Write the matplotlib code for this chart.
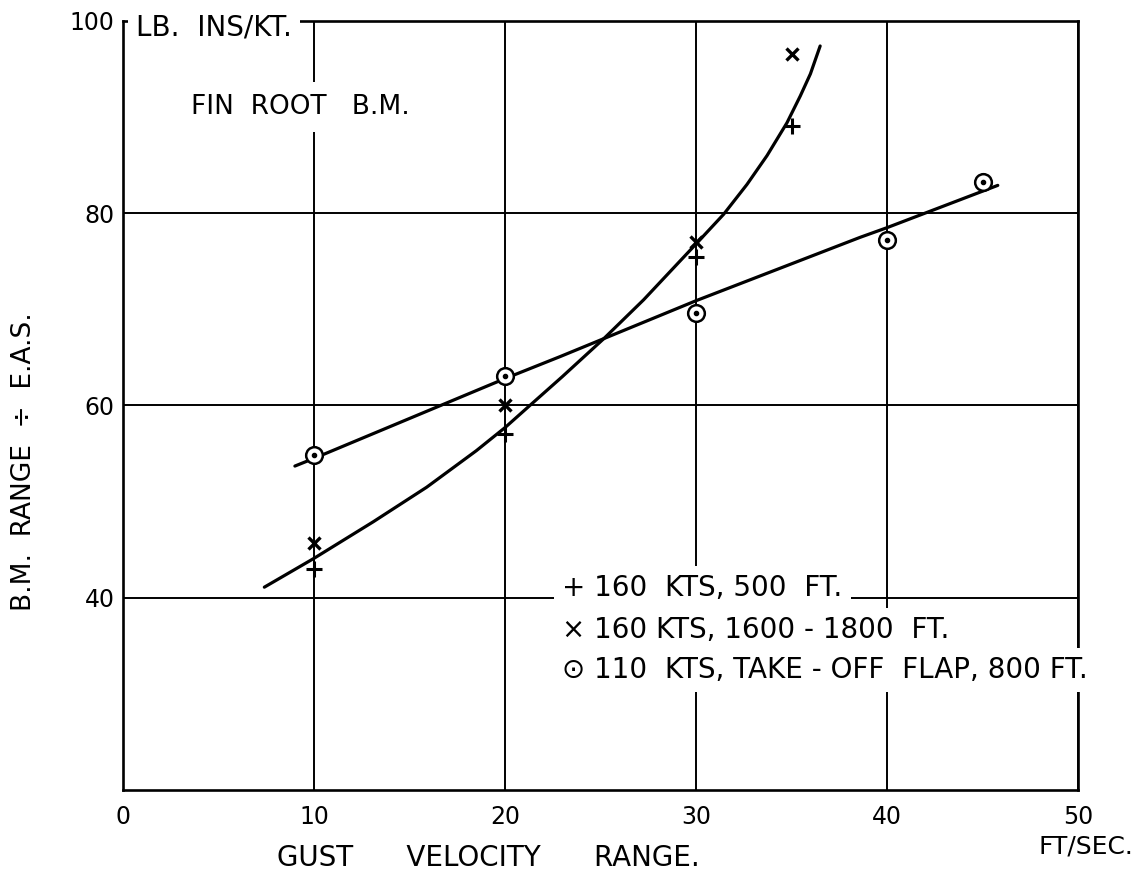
import matplotlib
matplotlib.use("Agg")
import matplotlib.pyplot as plt

# ---- data ----
x_ticks = [0, 10, 20, 30, 40, 50]
y_ticks = [40, 60, 80, 100]

# + 160 KTS, 500 FT.
plus_x = [10, 20, 30, 35]
plus_y = [43.0, 57.0, 75.4, 89.1]
# x 160 KTS, 1600-1800 FT.
cross_x = [10, 20, 30, 35]
cross_y = [45.7, 60.0, 77.0, 96.6]
# o 110 KTS, TAKE-OFF FLAP, 800 FT.
circ_x = [10, 20, 30, 40, 45]
circ_y = [54.8, 63.1, 69.6, 77.2, 83.2]

# faired curves
curve_a_x = [7.4, 10.0, 13.1, 15.9, 18.5, 20.0, 21.3, 23.0, 25.17, 27.26,
             30.0, 31.45, 32.67, 33.72, 34.76, 35.46, 35.99, 36.5]
curve_a_y = [41.1, 44.1, 47.9, 51.5, 55.3, 57.7, 60.0, 63.0, 66.95, 71.0,
             76.8, 79.9, 83.0, 86.0, 89.4, 92.2, 94.5, 97.4]
curve_b_x = [9.0, 10.0, 20.0, 22.9, 30.0, 38.6, 40.0, 45.8]
curve_b_y = [53.7, 54.5, 62.8, 65.1, 70.9, 77.5, 78.5, 82.9]

legend_lines = ["+ 160  KTS, 500  FT.",
                "\u00d7 160 KTS, 1600 - 1800  FT.",
                "\u2299 110  KTS, TAKE - OFF  FLAP, 800 FT."]

W, H = 1147, 875
plt.rcParams['font.family'] = ['DejaVu Sans']

fig = plt.figure(figsize=(W / 100, H / 100), dpi=100)
ax = fig.add_axes([123 / W, 1 - 790 / H, (1078 - 123) / W, (790 - 21) / H])
ax.set_xlim(0, 50)
ax.set_ylim(20, 100)

for s in ax.spines.values():
    s.set_linewidth(1.9)
    s.set_color('black')

ax.set_xticks(x_ticks)
ax.set_yticks(y_ticks)
ax.tick_params(axis='both', length=0, labelsize=17, colors='black')
ax.tick_params(axis='x', pad=11)
ax.tick_params(axis='y', pad=6)
ax.grid(True, color='black', linewidth=1.4)
ax.set_axisbelow(True)

# curves
ax.plot(curve_a_x, curve_a_y, color='black', lw=2.3, solid_capstyle='round',
        solid_joinstyle='round', zorder=3)
ax.plot(curve_b_x, curve_b_y, color='black', lw=2.3, solid_capstyle='round',
        solid_joinstyle='round', zorder=3)

# markers
ax.plot(plus_x, plus_y, ls='none', marker='+', ms=11, mew=2.2, color='black', zorder=4)
ax.plot(cross_x, cross_y, ls='none', marker='x', ms=8, mew=2.4, color='black', zorder=4)
ax.plot(circ_x, circ_y, ls='none', marker='o', ms=12, mew=1.8, mfc='white',
        mec='black', zorder=4)
ax.plot(circ_x, circ_y, ls='none', marker='o', ms=3, color='black', zorder=5)


def px_text(x, y, s, **kw):
    kw.setdefault('fontsize', 19)
    kw.setdefault('color', 'black')
    return fig.text(x / W, 1 - y / H, s, zorder=10, **kw)


# unit label on top spine
px_text(136, 27, "LB.  INS/KT.", ha='left', va='center', fontsize=20,
        bbox=dict(facecolor='white', edgecolor='none', pad=6))
# title inside
px_text(300, 107, "FIN  ROOT   B.M.", ha='center', va='center', fontsize=19,
        bbox=dict(facecolor='white', edgecolor='none', pad=9))

# legend block
leg_y = [588, 630, 670]
for s, yy in zip(legend_lines, leg_y):
    px_text(562, yy, s, ha='left', va='center', fontsize=20,
            bbox=dict(facecolor='white', edgecolor='none', pad=6))

# axis labels
px_text(488, 858, "GUST      VELOCITY      RANGE.", ha='center', va='center', fontsize=20)
px_text(1086, 846, "FT/SEC.", ha='center', va='center', fontsize=18)
px_text(24, 462, "B.M.  RANGE  \u00f7  E.A.S.", ha='center', va='center',
        rotation=90, fontsize=19)

fig.savefig("out.png", dpi=100, facecolor='white')
